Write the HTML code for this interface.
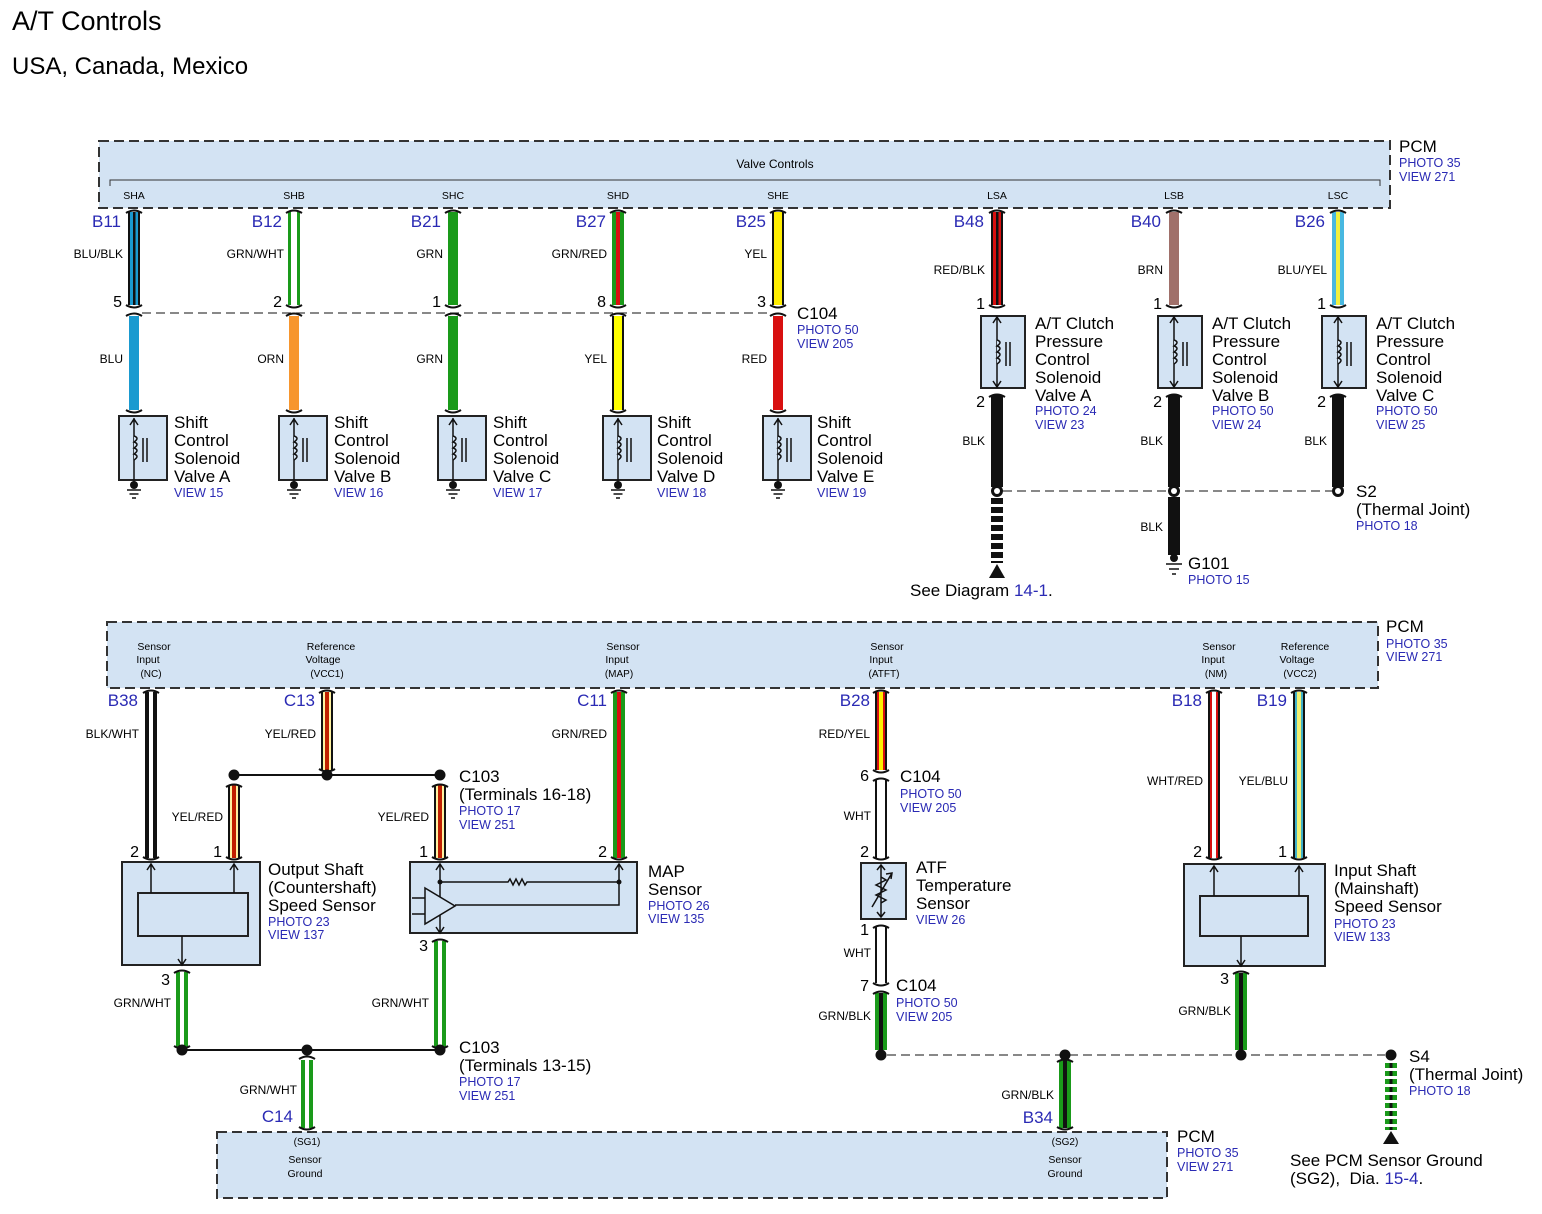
<!DOCTYPE html>
<html><head><meta charset="utf-8"><style>
body{margin:0;background:#fff}
svg{display:block;font-family:"Liberation Sans",sans-serif}
.b{fill:#2a2ab4}
.pid{font-size:17px;fill:#2a2ab4;text-anchor:end}
.wl{font-size:12px;text-anchor:end}
.pn{font-size:16px;text-anchor:end}
.t{font-size:17px}
.s{font-size:12.5px;fill:#2a2ab4}
.p{font-size:10.5px;text-anchor:middle}
</style></head><body>
<svg width="1542" height="1214" viewBox="0 0 1542 1214" xmlns="http://www.w3.org/2000/svg">
<defs>
<g id="sol">
<rect x="-15" y="0" width="48" height="64" fill="#d3e3f3" stroke="#222" stroke-width="2"/>
<path d="M0,70 V2 M-4,9 L0,3 L4,9" fill="none" stroke="#111" stroke-width="1.5"/>
<path d="M0,20 q6,2 0,6 q6,2 0,6 q6,2 0,6 q6,2 0,6" fill="#d3e3f3" stroke="#111" stroke-width="1.5"/>
<path d="M9,22 V46 M13,22 V46" stroke="#111" stroke-width="1.5"/>
<circle cx="0" cy="69" r="4" fill="#111"/>
<path d="M-7,74 H7 M-4.5,78 H4.5 M-2,82 H2" stroke="#111" stroke-width="1.5"/>
</g>
<g id="sol2">
<rect x="-16" y="0" width="44" height="72" fill="#d3e3f3" stroke="#222" stroke-width="2"/>
<path d="M0,0 V72 M-4,7 L0,1 L4,7 M-4,65 L0,71 L4,65" fill="none" stroke="#111" stroke-width="1.5"/>
<path d="M0,24 q6,2 0,6 q6,2 0,6 q6,2 0,6 q6,2 0,6" fill="#d3e3f3" stroke="#111" stroke-width="1.5"/>
<path d="M9,26 V50 M13,26 V50" stroke="#111" stroke-width="1.5"/>
</g>
<path id="ct" d="M-8,0 Q0,-5 8,0" fill="none" stroke="#111" stroke-width="2"/>
<path id="cb" d="M-8,0 Q0,5 8,0" fill="none" stroke="#111" stroke-width="2"/>
</defs>

<text x="12" y="30" font-size="27">A/T Controls</text>
<text x="12" y="74" font-size="24">USA, Canada, Mexico</text>

<!-- TOP PCM -->
<rect x="99" y="141" width="1291" height="67" fill="#d3e3f3" stroke="#333" stroke-width="2" stroke-dasharray="10,5"/>
<text x="775" y="168" font-size="12" text-anchor="middle">Valve Controls</text>
<path d="M110,186 V180 H1380 V186" fill="none" stroke="#333" stroke-width="1"/>
<g class="p" font-size="10">
<text x="134" y="199">SHA</text><text x="294" y="199">SHB</text><text x="453" y="199">SHC</text><text x="618" y="199">SHD</text><text x="778" y="199">SHE</text><text x="997" y="199">LSA</text><text x="1174" y="199">LSB</text><text x="1338" y="199">LSC</text>
</g>
<text x="1399" y="152" class="t">PCM</text><text x="1399" y="167" class="s">PHOTO 35</text><text x="1399" y="181" class="s">VIEW 271</text>

<!-- top wires -->
<rect x="128" y="212" width="12" height="93" fill="#111"/><rect x="130" y="212" width="8" height="93" fill="#1a9ad0"/><rect x="133" y="212" width="2.5" height="93" fill="#111"/>
<rect x="288" y="212" width="12" height="93" fill="#1a9a1a"/><rect x="291" y="212" width="6" height="93" fill="#fff"/>
<rect x="448" y="212" width="10" height="93" fill="#1a9a1a"/>
<rect x="612" y="212" width="12" height="93" fill="#1a9a1a"/><rect x="616" y="212" width="4" height="93" fill="#d81010"/>
<rect x="772" y="212" width="12" height="93" fill="#111"/><rect x="774" y="212" width="8" height="93" fill="#ffee00"/>
<rect x="991" y="212" width="12" height="93" fill="#111"/><rect x="993" y="212" width="8" height="93" fill="#d81010"/><rect x="996" y="212" width="2.5" height="93" fill="#111"/>
<rect x="1169" y="212" width="10" height="93" fill="#a0706a"/>
<rect x="1332" y="212" width="12" height="93" fill="#48b8e0"/><rect x="1336" y="212" width="4" height="93" fill="#f0f040"/>
<g>
<use href="#ct" x="134" y="213"/><use href="#ct" x="294" y="213"/><use href="#ct" x="453" y="213"/><use href="#ct" x="618" y="213"/><use href="#ct" x="778" y="213"/><use href="#ct" x="997" y="213"/><use href="#ct" x="1174" y="213"/><use href="#ct" x="1338" y="213"/>
<use href="#cb" x="134" y="305"/><use href="#cb" x="294" y="305"/><use href="#cb" x="453" y="305"/><use href="#cb" x="618" y="305"/><use href="#cb" x="778" y="305"/><use href="#cb" x="997" y="305"/><use href="#cb" x="1174" y="305"/><use href="#cb" x="1338" y="305"/>
<use href="#ct" x="134" y="316"/><use href="#ct" x="294" y="316"/><use href="#ct" x="453" y="316"/><use href="#ct" x="618" y="316"/><use href="#ct" x="778" y="316"/>
<use href="#cb" x="134" y="410"/><use href="#cb" x="294" y="410"/><use href="#cb" x="453" y="410"/><use href="#cb" x="618" y="410"/><use href="#cb" x="778" y="410"/>
</g>
<g class="pid"><text x="121" y="227">B11</text><text x="282" y="227">B12</text><text x="441" y="227">B21</text><text x="606" y="227">B27</text><text x="766" y="227">B25</text><text x="984" y="227">B48</text><text x="1161" y="227">B40</text><text x="1325" y="227">B26</text></g>
<g class="wl"><text x="123" y="258">BLU/BLK</text><text x="284" y="258">GRN/WHT</text><text x="443" y="258">GRN</text><text x="607" y="258">GRN/RED</text><text x="767" y="258">YEL</text><text x="985" y="274">RED/BLK</text><text x="1163" y="274">BRN</text><text x="1327" y="274">BLU/YEL</text></g>
<g class="pn"><text x="122" y="307">5</text><text x="282" y="307">2</text><text x="441" y="307">1</text><text x="606" y="307">8</text><text x="766" y="307">3</text><text x="985" y="309">1</text><text x="1162" y="309">1</text><text x="1326" y="309">1</text></g>
<line x1="142" y1="313" x2="770" y2="313" stroke="#111" stroke-width="1" stroke-dasharray="9,5"/>
<text x="797" y="319" class="t">C104</text><text x="797" y="334" class="s">PHOTO 50</text><text x="797" y="348" class="s">VIEW 205</text>

<!-- lower wires top section -->
<rect x="129" y="316" width="10" height="94" fill="#1a9ad0"/>
<rect x="289" y="316" width="10" height="94" fill="#f7962e"/>
<rect x="448" y="316" width="10" height="94" fill="#1a9a1a"/>
<rect x="612" y="316" width="12" height="94" fill="#111"/><rect x="614" y="316" width="8" height="94" fill="#ffff00"/>
<rect x="773" y="316" width="10" height="94" fill="#d81010"/>
<g class="wl"><text x="123" y="363">BLU</text><text x="284" y="363">ORN</text><text x="443" y="363">GRN</text><text x="607" y="363">YEL</text><text x="767" y="363">RED</text></g>

<use href="#sol" x="134" y="416"/><use href="#sol" x="294" y="416"/><use href="#sol" x="453" y="416"/><use href="#sol" x="618" y="416"/><use href="#sol" x="778" y="416"/>
<g class="t">
<text x="174" y="428">Shift</text><text x="174" y="446">Control</text><text x="174" y="464">Solenoid</text><text x="174" y="482">Valve A</text>
<text x="334" y="428">Shift</text><text x="334" y="446">Control</text><text x="334" y="464">Solenoid</text><text x="334" y="482">Valve B</text>
<text x="493" y="428">Shift</text><text x="493" y="446">Control</text><text x="493" y="464">Solenoid</text><text x="493" y="482">Valve C</text>
<text x="657" y="428">Shift</text><text x="657" y="446">Control</text><text x="657" y="464">Solenoid</text><text x="657" y="482">Valve D</text>
<text x="817" y="428">Shift</text><text x="817" y="446">Control</text><text x="817" y="464">Solenoid</text><text x="817" y="482">Valve E</text>
</g>
<text x="174" y="497" class="s">VIEW 15</text><text x="334" y="497" class="s">VIEW 16</text><text x="493" y="497" class="s">VIEW 17</text><text x="657" y="497" class="s">VIEW 18</text><text x="817" y="497" class="s">VIEW 19</text>

<!-- clutch solenoids -->
<use href="#sol2" x="997" y="316"/><use href="#sol2" x="1174" y="316"/><use href="#sol2" x="1338" y="316"/>
<g class="t">
<text x="1035" y="329">A/T Clutch</text><text x="1035" y="347">Pressure</text><text x="1035" y="365">Control</text><text x="1035" y="383">Solenoid</text><text x="1035" y="401">Valve A</text>
<text x="1212" y="329">A/T Clutch</text><text x="1212" y="347">Pressure</text><text x="1212" y="365">Control</text><text x="1212" y="383">Solenoid</text><text x="1212" y="401">Valve B</text>
<text x="1376" y="329">A/T Clutch</text><text x="1376" y="347">Pressure</text><text x="1376" y="365">Control</text><text x="1376" y="383">Solenoid</text><text x="1376" y="401">Valve C</text>
</g>
<text x="1035" y="415" class="s">PHOTO 24</text><text x="1035" y="429" class="s">VIEW 23</text>
<text x="1212" y="415" class="s">PHOTO 50</text><text x="1212" y="429" class="s">VIEW 24</text>
<text x="1376" y="415" class="s">PHOTO 50</text><text x="1376" y="429" class="s">VIEW 25</text>
<g class="pn"><text x="985" y="407">2</text><text x="1162" y="407">2</text><text x="1326" y="407">2</text></g>
<rect x="991" y="395" width="12" height="92" fill="#111"/><rect x="1168" y="395" width="12" height="92" fill="#111"/><rect x="1332" y="395" width="12" height="92" fill="#111"/>
<use href="#ct" x="997" y="397"/><use href="#ct" x="1174" y="397"/><use href="#ct" x="1338" y="397"/>
<g class="wl"><text x="985" y="445">BLK</text><text x="1163" y="445">BLK</text><text x="1327" y="445">BLK</text><text x="1163" y="531">BLK</text></g>
<line x1="1003" y1="491" x2="1332" y2="491" stroke="#111" stroke-dasharray="9,5"/>
<circle cx="997" cy="491" r="6" fill="#111"/><circle cx="997" cy="491" r="3" fill="#fff"/>
<circle cx="1174" cy="491" r="6" fill="#111"/><circle cx="1174" cy="491" r="3" fill="#fff"/>
<circle cx="1338" cy="491" r="6" fill="#111"/><circle cx="1338" cy="491" r="3" fill="#fff"/>
<text x="1356" y="497" class="t">S2</text><text x="1356" y="515" class="t">(Thermal Joint)</text><text x="1356" y="530" class="s">PHOTO 18</text>
<line x1="997" y1="498" x2="997" y2="563" stroke="#111" stroke-width="12" stroke-dasharray="6,3"/>
<path d="M989,578 L997,564 L1005,578 Z" fill="#111"/>
<text x="910" y="596" class="t">See Diagram <tspan fill="#2a2ab4">14-1</tspan>.</text>
<rect x="1168" y="497" width="12" height="58" fill="#111"/>
<circle cx="1174" cy="558" r="4" fill="#111"/>
<path d="M1166,564 H1182 M1169,569 H1179 M1172,574 H1176" stroke="#111" stroke-width="1.5"/>
<text x="1188" y="569" class="t">G101</text><text x="1188" y="584" class="s">PHOTO 15</text>

<!-- BOTTOM PCM -->
<rect x="107" y="622" width="1271" height="66" fill="#d3e3f3" stroke="#333" stroke-width="2" stroke-dasharray="10,5"/>
<g class="p" font-size="12">
<text x="154" y="650">Sensor</text><text x="148" y="663">Input</text><text x="151" y="677" font-size="10">(NC)</text>
<text x="331" y="650">Reference</text><text x="323" y="663">Voltage</text><text x="327" y="677" font-size="10">(VCC1)</text>
<text x="623" y="650">Sensor</text><text x="617" y="663">Input</text><text x="619" y="677" font-size="10">(MAP)</text>
<text x="887" y="650">Sensor</text><text x="881" y="663">Input</text><text x="884" y="677" font-size="10">(ATFT)</text>
<text x="1219" y="650">Sensor</text><text x="1213" y="663">Input</text><text x="1216" y="677" font-size="10">(NM)</text>
<text x="1305" y="650">Reference</text><text x="1297" y="663">Voltage</text><text x="1300" y="677" font-size="10">(VCC2)</text>
</g>
<text x="1386" y="632" class="t">PCM</text><text x="1386" y="648" class="s">PHOTO 35</text><text x="1386" y="661" class="s">VIEW 271</text>
<g class="pid"><text x="138" y="706">B38</text><text x="315" y="706">C13</text><text x="607" y="706">C11</text><text x="870" y="706">B28</text><text x="1202" y="706">B18</text><text x="1287" y="706">B19</text></g>

<!-- bottom wires -->
<rect x="145" y="692" width="12" height="166" fill="#111"/><rect x="149" y="692" width="4" height="166" fill="#fff"/>
<rect x="321" y="692" width="12" height="78" fill="#111"/><rect x="323" y="692" width="8" height="78" fill="#fff2a0"/><rect x="325" y="692" width="4" height="78" fill="#c02000"/>
<rect x="228" y="785" width="12" height="73" fill="#111"/><rect x="230" y="785" width="8" height="73" fill="#fff2a0"/><rect x="232" y="785" width="4" height="73" fill="#c02000"/>
<rect x="434" y="785" width="12" height="73" fill="#111"/><rect x="436" y="785" width="8" height="73" fill="#fff2a0"/><rect x="438" y="785" width="4" height="73" fill="#c02000"/>
<rect x="613" y="692" width="12" height="166" fill="#1a9a1a"/><rect x="617" y="692" width="4" height="166" fill="#d81010"/>
<rect x="875" y="692" width="12" height="78" fill="#111"/><rect x="877" y="692" width="8" height="78" fill="#d81010"/><rect x="879" y="692" width="4" height="78" fill="#ffee00"/>
<rect x="875" y="780" width="12" height="78" fill="#111"/><rect x="877" y="780" width="8" height="78" fill="#fff"/>
<rect x="875" y="927" width="12" height="56" fill="#111"/><rect x="877" y="927" width="8" height="56" fill="#fff"/>
<rect x="875" y="993" width="12" height="57" fill="#1a9a1a"/><rect x="879" y="993" width="4" height="57" fill="#111"/>
<rect x="1208" y="692" width="12" height="166" fill="#111"/><rect x="1210" y="692" width="8" height="166" fill="#d81010"/><rect x="1212" y="692" width="4" height="166" fill="#fff"/>
<rect x="1293" y="692" width="12" height="166" fill="#111"/><rect x="1295" y="692" width="8" height="166" fill="#40b0c8"/><rect x="1297" y="692" width="4" height="166" fill="#f0f070"/>
<rect x="176" y="972" width="12" height="76" fill="#1a9a1a"/><rect x="180" y="972" width="4" height="76" fill="#fff"/>
<rect x="434" y="941" width="12" height="107" fill="#1a9a1a"/><rect x="438" y="941" width="4" height="107" fill="#fff"/>
<rect x="301" y="1060" width="12" height="68" fill="#1a9a1a"/><rect x="305" y="1060" width="4" height="68" fill="#fff"/>
<rect x="1059" y="1060" width="12" height="68" fill="#1a9a1a"/><rect x="1063" y="1060" width="4" height="68" fill="#111"/>
<rect x="1235" y="973" width="12" height="77" fill="#1a9a1a"/><rect x="1239" y="973" width="4" height="77" fill="#111"/>
<g>
<use href="#ct" x="151" y="693"/><use href="#ct" x="327" y="693"/><use href="#ct" x="619" y="693"/><use href="#ct" x="881" y="693"/><use href="#ct" x="1214" y="693"/><use href="#ct" x="1299" y="693"/>
<use href="#cb" x="327" y="769"/><use href="#ct" x="234" y="787"/><use href="#ct" x="440" y="787"/>
<use href="#cb" x="151" y="857"/><use href="#cb" x="234" y="857"/><use href="#cb" x="440" y="857"/><use href="#cb" x="619" y="857"/><use href="#cb" x="881" y="857"/><use href="#cb" x="1214" y="857"/><use href="#cb" x="1299" y="857"/>
<use href="#cb" x="881" y="770"/><use href="#ct" x="881" y="781"/><use href="#ct" x="881" y="928"/><use href="#cb" x="881" y="983"/><use href="#ct" x="881" y="994"/>
<use href="#ct" x="182" y="973"/><use href="#ct" x="440" y="942"/><use href="#ct" x="1241" y="974"/>
<use href="#cb" x="307" y="1127"/><use href="#cb" x="1065" y="1127"/>
</g>
<g class="wl"><text x="139" y="738">BLK/WHT</text><text x="316" y="738">YEL/RED</text><text x="223" y="821">YEL/RED</text><text x="429" y="821">YEL/RED</text><text x="607" y="738">GRN/RED</text><text x="870" y="738">RED/YEL</text><text x="871" y="820">WHT</text><text x="871" y="957">WHT</text><text x="871" y="1020">GRN/BLK</text><text x="1203" y="785">WHT/RED</text><text x="1288" y="785">YEL/BLU</text><text x="171" y="1007">GRN/WHT</text><text x="429" y="1007">GRN/WHT</text><text x="297" y="1094">GRN/WHT</text><text x="1054" y="1099">GRN/BLK</text><text x="1231" y="1015">GRN/BLK</text></g>
<g class="pn"><text x="139" y="857">2</text><text x="222" y="857">1</text><text x="428" y="857">1</text><text x="607" y="857">2</text><text x="869" y="781">6</text><text x="869" y="857">2</text><text x="869" y="935">1</text><text x="869" y="991">7</text><text x="1202" y="857">2</text><text x="1287" y="857">1</text><text x="170" y="985">3</text><text x="428" y="951">3</text><text x="1229" y="984">3</text></g>

<line x1="234" y1="775" x2="440" y2="775" stroke="#111" stroke-width="2"/>
<circle cx="234" cy="775" r="5.5" fill="#111"/><circle cx="327" cy="775" r="5.5" fill="#111"/><circle cx="440" cy="775" r="5.5" fill="#111"/>
<text x="459" y="782" class="t">C103</text><text x="459" y="800" class="t">(Terminals 16-18)</text><text x="459" y="815" class="s">PHOTO 17</text><text x="459" y="829" class="s">VIEW 251</text>
<line x1="182" y1="1050" x2="440" y2="1050" stroke="#111" stroke-width="2"/>
<circle cx="182" cy="1050" r="5.5" fill="#111"/><circle cx="307" cy="1050" r="5.5" fill="#111"/><circle cx="440" cy="1050" r="5.5" fill="#111"/>
<use href="#ct" x="307" y="1059"/><use href="#cb" x="182" y="1046"/><use href="#cb" x="440" y="1046"/>
<text x="459" y="1053" class="t">C103</text><text x="459" y="1071" class="t">(Terminals 13-15)</text><text x="459" y="1086" class="s">PHOTO 17</text><text x="459" y="1100" class="s">VIEW 251</text>

<!-- output shaft sensor -->
<rect x="122" y="862" width="138" height="103" fill="#d3e3f3" stroke="#222" stroke-width="2"/>
<rect x="138" y="893" width="110" height="43" fill="#d3e3f3" stroke="#222" stroke-width="2"/>
<path d="M151,893 V864 M147,870 L151,864 L155,870 M234,893 V864 M230,870 L234,864 L238,870 M182,936 V965 M178,959 L182,965 L186,959" fill="none" stroke="#111" stroke-width="1.5"/>
<g class="t"><text x="268" y="875">Output Shaft</text><text x="268" y="893">(Countershaft)</text><text x="268" y="911">Speed Sensor</text></g>
<text x="268" y="926" class="s">PHOTO 23</text><text x="268" y="939" class="s">VIEW 137</text>

<!-- MAP -->
<rect x="410" y="862" width="227" height="71" fill="#d3e3f3" stroke="#222" stroke-width="2"/>
<path d="M440,864 V933 M436,870 L440,864 L444,870 M436,927 L440,933 L444,927 M619,864 V905 H455 M615,870 L619,864 L623,870 M440,882 H508 l2,-3 l3,6 l3,-6 l3,6 l3,-6 l3,6 l2,-3 H619 M412,898 H425 M412,914 H425" fill="none" stroke="#111" stroke-width="1.5"/>
<path d="M425,888 L455,906 L425,924 Z" fill="#d3e3f3" stroke="#111" stroke-width="1.5"/>
<circle cx="440" cy="882" r="2.5" fill="#111"/><circle cx="619" cy="882" r="2.5" fill="#111"/>
<g class="t"><text x="648" y="877">MAP</text><text x="648" y="895">Sensor</text></g>
<text x="648" y="910" class="s">PHOTO 26</text><text x="648" y="923" class="s">VIEW 135</text>

<!-- ATF -->
<rect x="861" y="863" width="45" height="56" fill="#d3e3f3" stroke="#222" stroke-width="2"/>
<path d="M881,865 V917 M877,870 L881,865 L885,870 M877,912 L881,917 L885,912 M881,877 l5,3 l-10,5 l10,5 l-10,5 l10,5 l-5,3 M872,907 L892,873 M886,874 L892,873 L891,879" fill="none" stroke="#111" stroke-width="1.5"/>
<g class="t"><text x="916" y="873">ATF</text><text x="916" y="891">Temperature</text><text x="916" y="909">Sensor</text></g>
<text x="916" y="924" class="s">VIEW 26</text>
<text x="900" y="782" class="t">C104</text><text x="900" y="798" class="s">PHOTO 50</text><text x="900" y="812" class="s">VIEW 205</text>
<text x="896" y="991" class="t">C104</text><text x="896" y="1007" class="s">PHOTO 50</text><text x="896" y="1021" class="s">VIEW 205</text>

<!-- input shaft -->
<rect x="1184" y="864" width="141" height="102" fill="#d3e3f3" stroke="#222" stroke-width="2"/>
<rect x="1200" y="896" width="108" height="40" fill="#d3e3f3" stroke="#222" stroke-width="2"/>
<path d="M1214,896 V866 M1210,872 L1214,866 L1218,872 M1299,896 V866 M1295,872 L1299,866 L1303,872 M1241,936 V966 M1237,960 L1241,966 L1245,960" fill="none" stroke="#111" stroke-width="1.5"/>
<g class="t"><text x="1334" y="876">Input Shaft</text><text x="1334" y="894">(Mainshaft)</text><text x="1334" y="912">Speed Sensor</text></g>
<text x="1334" y="928" class="s">PHOTO 23</text><text x="1334" y="941" class="s">VIEW 133</text>

<line x1="887" y1="1055" x2="1385" y2="1055" stroke="#111" stroke-dasharray="9,5"/>
<circle cx="881" cy="1055" r="5.5" fill="#111"/><circle cx="1065" cy="1055" r="5.5" fill="#111"/><circle cx="1241" cy="1055" r="5.5" fill="#111"/><circle cx="1391" cy="1055" r="5.5" fill="#111"/>
<use href="#ct" x="1065" y="1062"/>
<text x="1409" y="1062" class="t">S4</text><text x="1409" y="1080" class="t">(Thermal Joint)</text><text x="1409" y="1095" class="s">PHOTO 18</text>
<line x1="1391" y1="1063" x2="1391" y2="1130" stroke="#1a9a1a" stroke-width="12" stroke-dasharray="5,3"/>
<line x1="1391" y1="1063" x2="1391" y2="1130" stroke="#111" stroke-width="3" stroke-dasharray="5,3"/>
<path d="M1383,1144 L1391,1131 L1399,1144 Z" fill="#111"/>
<text x="1290" y="1166" class="t">See PCM Sensor Ground</text>
<text x="1290" y="1184" class="t">(SG2),&#160; Dia. <tspan fill="#2a2ab4">15-4</tspan>.</text>

<!-- bottom PCM -->
<rect x="217" y="1132" width="950" height="66" fill="#d3e3f3" stroke="#333" stroke-width="2" stroke-dasharray="10,5"/>
<text x="293" y="1122" class="pid">C14</text><text x="1053" y="1123" class="pid">B34</text>
<g class="p" font-size="12"><text x="307" y="1145" font-size="10">(SG1)</text><text x="305" y="1163">Sensor</text><text x="305" y="1177">Ground</text>
<text x="1065" y="1145" font-size="10">(SG2)</text><text x="1065" y="1163">Sensor</text><text x="1065" y="1177">Ground</text></g>
<text x="1177" y="1142" class="t">PCM</text><text x="1177" y="1157" class="s">PHOTO 35</text><text x="1177" y="1171" class="s">VIEW 271</text>
</svg>
</body></html>
